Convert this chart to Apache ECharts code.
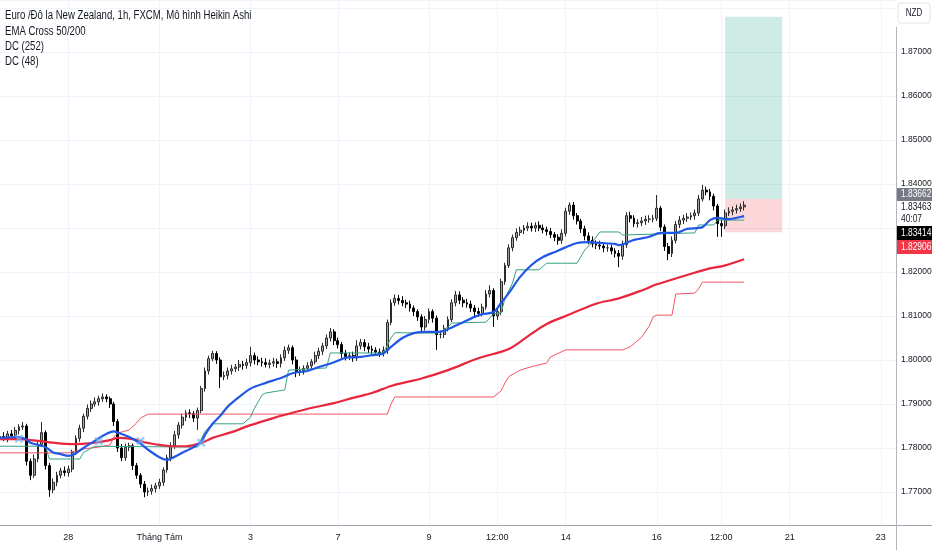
<!DOCTYPE html>
<html><head><meta charset="utf-8">
<script src="https://cdn.jsdelivr.net/npm/echarts@6/dist/echarts.min.js"></script>
<style>html,body{margin:0;padding:0;background:#fff}#c{width:932px;height:550px}</style>
</head><body><div id="c"></div>
<script>
// price values are stored in pips above pipBase
const pipBase = 1.7, pipSize = 0.0001;
const slotCount = 237;
const xLabelSlots = [18,42,66,89,113,131,149,173,190,208,232];
const xLabelTexts = ['28','Tháng Tám','3','7','9','12:00','14','16','12:00','21','23'];
const yMin = 1.7625, yMax = 1.88182;

const haOpen = [820,826,822,832,828,840,848,850,770,738,
775,808,835,760,705,722,738,748,744,752,
790,822,845,872,890,900,905,912,916,912,
900,860,800,778,802,805,760,738,718,700,
702,708,714,722,750,778,805,830,852,870,
880,878,868,885,935,975,1003,1015,1000,962,
965,975,980,984,990,988,994,1010,1000,996,
994,990,993,996,992,1005,1022,1028,1000,972,
976,981,987,996,1010,1020,1032,1050,1064,1044,
1035,1015,1008,1010,1005,1032,1040,1030,1025,1022,
1018,1015,1022,1085,1130,1140,1135,1130,1127,1118,
1110,1098,1075,1092,1110,1095,1058,1058,1072,1092,
1130,1148,1136,1130,1127,1118,1110,1106,1120,1150,
1158,1100,1110,1178,1215,1255,1278,1290,1295,1300,
1304,1300,1306,1300,1296,1292,1285,1279,1272,1288,
1338,1352,1328,1316,1298,1282,1272,1264,1261,1259,
1255,1255,1248,1242,1236,1262,1328,1322,1310,1312,
1316,1320,1320,1322,1345,1302,1258,1242,1272,1308,
1318,1322,1325,1328,1334,1366,1386,1382,1372,1350,
1310,1305,1334,1338,1341,1344,1348];
const haClose = [826,822,832,828,840,848,850,770,738,775,
808,835,760,705,722,738,748,744,752,790,
822,845,872,890,900,905,912,916,912,900,
860,800,778,802,805,760,738,718,700,702,
708,714,722,750,778,805,830,852,870,880,
878,868,885,935,975,1003,1015,1000,962,965,
975,980,984,990,988,994,1010,1000,996,994,
990,993,996,992,1005,1022,1028,1000,972,976,
981,987,996,1010,1020,1032,1050,1064,1044,1035,
1015,1008,1010,1005,1032,1040,1030,1025,1022,1018,
1015,1022,1085,1130,1140,1135,1130,1127,1118,1110,
1098,1075,1092,1110,1095,1058,1058,1072,1092,1130,
1148,1136,1130,1127,1118,1110,1106,1120,1150,1158,
1100,1110,1178,1215,1255,1278,1290,1295,1300,1304,
1300,1306,1300,1296,1292,1285,1279,1272,1288,1338,
1352,1328,1316,1298,1282,1272,1264,1261,1259,1255,
1255,1248,1242,1236,1262,1328,1322,1310,1312,1316,
1320,1320,1322,1345,1302,1258,1242,1272,1308,1318,
1322,1325,1328,1334,1366,1386,1382,1372,1350,1310,
1305,1334,1338,1341,1344,1348,1352];
// wick lengths (pips) above the body top and below the body bottom
const wickUp = [8,10,7,9,8,6,9,5,6,10,
8,24,5,6,9,8,7,10,8,6,
7,8,6,9,8,10,7,8,6,5,
5,6,9,8,7,5,6,5,7,8,
9,7,8,6,7,8,9,7,8,6,
8,6,7,6,8,7,6,5,6,9,
8,9,7,10,8,9,20,7,8,9,
10,8,9,7,8,9,7,5,8,9,
7,8,6,9,8,7,8,9,6,7,
6,8,7,9,13,8,7,9,8,7,
8,9,7,8,9,8,10,7,8,6,
5,6,8,7,5,6,9,8,7,8,
9,8,7,9,8,7,9,8,9,12,
5,8,7,6,8,7,9,8,7,9,
8,7,9,8,7,8,6,7,9,8,
6,7,6,5,7,8,9,8,10,7,
8,7,6,8,9,8,9,7,8,9,
8,9,8,30,5,6,8,9,8,9,
8,9,7,8,9,12,8,7,6,5,
9,8,9,8,9,8,9];
const wickDown = [8,6,9,7,8,9,7,10,11,6,
7,5,9,16,8,9,7,8,9,7,
6,8,9,7,8,6,9,7,8,9,
10,9,8,7,9,10,8,9,12,9,
8,9,7,8,6,8,7,9,8,9,
10,9,27,6,7,8,6,9,26,8,
9,8,7,9,10,8,9,10,8,9,
7,9,8,10,9,7,8,10,11,8,
9,7,8,6,8,9,7,8,10,9,
10,9,8,9,7,8,10,9,8,9,
8,7,8,6,7,9,8,9,8,10,
9,14,8,9,10,35,9,8,7,6,
8,9,10,8,9,10,8,7,6,8,
25,9,8,7,6,8,7,8,9,7,
8,9,7,8,9,8,9,10,8,7,
8,9,8,9,10,9,8,9,8,10,
9,8,9,25,8,7,9,8,9,8,
9,8,7,6,9,10,15,8,7,8,
9,8,7,9,7,6,8,9,10,30,
25,8,7,9,8,7,8];

// [slot, pips]
const emaFast = [[0,823],[5,825],[7,819],[8,812],[10,807],[12,802],[14,790],[16,786],[18,782],[20,788],[22,800],[24,811],[26,822],[28,832],[30,838],[31,835],[32,832],[34,825],[37,810],[39,796],[42,779],[44,773],[45,776],[48,789],[51,802],[53,814],[54,830],[56,855],[58,873],[60,894],[63,916],[66,935],[70,948],[74,959],[77,970],[81,975],[84,984],[88,995],[91,1005],[95,1007],[98,1011],[101,1015],[103,1030],[106,1050],[109,1061],[112,1064],[114,1064],[117,1066],[119,1074],[122,1086],[125,1098],[127,1104],[130,1109],[132,1130],[134,1152],[137,1189],[140,1216],[143,1234],[146,1245],[149,1256],[152,1266],[155,1268],[158,1266],[162,1264],[163,1261],[165,1266],[167,1273],[171,1280],[174,1289],[178,1289],[181,1298],[185,1302],[187,1318],[189,1323],[192,1320],[195,1325],[196,1327]];
const emaSlow = [[0,820],[5,820],[10,816],[15,811],[19,809],[24,811],[29,818],[31,823],[35,820],[38,813],[42,807],[45,804],[49,804],[53,811],[56,823],[61,836],[66,852],[72,868],[77,880],[82,891],[88,902],[93,914],[98,925],[103,941],[111,958],[118,977],[126,1004],[134,1025],[140,1060],[144,1082],[149,1100],[157,1128],[163,1140],[169,1158],[173,1172],[179,1188],[186,1206],[191,1215],[196,1229]];
const dc48 = [[0,804],[12,804],[13,775],[21,775],[22,790],[25,804],[52,802],[54,838],[56,855],[64,855],[66,870],[67,890],[68,905],[69,920],[70,925],[75,932],[76,977],[86,982],[87,1016],[101,1016],[103,1050],[104,1062],[115,1061],[116,1064],[118,1075],[119,1084],[128,1086],[130,1105],[132,1107],[133,1140],[135,1175],[136,1205],[142,1205],[144,1220],[152,1220],[154,1250],[156,1268],[158,1291],[163,1291],[164,1284],[183,1289],[184,1307],[188,1307],[189,1318],[196,1318]];
const dc252 = [[0,789],[18,789],[22,798],[26,802],[29,807],[30,825],[31,834],[34,841],[36,857],[37,868],[39,877],[102,877],[103,900],[104,916],[130,916],[132,930],[133,948],[134,962],[136,972],[137,977],[140,985],[144,993],[145,1007],[149,1023],[164,1023],[166,1030],[169,1052],[171,1077],[172,1098],[173,1102],[177,1102],[178,1150],[183,1152],[184,1162],[185,1177],[196,1177]];
const crossMarks = [[5,821],[26,816],[37,816],[53,812]];

const posStartSlot = 191, posEndSlot = 206;
const posTarget = 1.8780, posEntry = 1.83662, posStop = 1.82906;

const legendLines = ['Euro /Đô la New Zealand, 1h, FXCM, Mô hình Heikin Ashi','EMA Cross 50/200','DC (252)','DC (48)'];
const tagTexts = ['1.83662','1.83463','40:07','1.83414','1.82906'];

const toPrice = p => +(pipBase + p * pipSize).toFixed(5);
const slots = Array.from({length: slotCount}, (_, i) => String(i));
const labelMap = {};
xLabelSlots.forEach((s, k) => labelMap[s] = xLabelTexts[k]);
const showLab = (i) => labelMap[i] !== undefined;

const candles = haOpen.map((o, i) => {
  const c = haClose[i];
  const hi = Math.max(o, c) + wickUp[i];
  const lo = Math.min(o, c) - wickDown[i];
  return [toPrice(o), toPrice(c), toPrice(lo), toPrice(hi)];
});
const conv = arr => arr.map(([s, p]) => [s, toPrice(p)]);

const FONT = "'Liberation Sans', Arial, sans-serif";
const SQ = 0.8; // horizontal squeeze of overlay texts, as in the reference
const txt = (x, y, text, fill, size, extra) => Object.assign({
  type: 'text', x: x, y: y, scaleX: SQ, z: 11,
  style: {text: text, fill: fill, font: size + 'px ' + FONT, verticalAlign: 'middle'}
}, extra || {});

const legendGraphics = legendLines.map((t, k) => txt(5, [16, 32, 47, 62][k], t, '#131722', 12));

const chart = echarts.init(document.getElementById('c'), null, {renderer: 'canvas'});
chart.setOption({
  animation: false,
  backgroundColor: '#ffffff',
  grid: {left: 0, right: 36, top: 0, bottom: 25, containLabel: false, outerBoundsMode: 'none'},
  xAxis: {
    type: 'category', data: slots, boundaryGap: false,
    axisLine: {show: false}, axisTick: {show: false},
    axisLabel: {interval: (i) => showLab(i), formatter: (v, i) => labelMap[i] || '', color: '#131722', fontSize: 9, margin: 8, fontFamily: FONT},
    splitLine: {show: true, interval: (i) => showLab(i), lineStyle: {color: '#f0f3fa', width: 1}}
  },
  yAxis: {
    type: 'value', position: 'right', min: yMin, max: yMax, splitNumber: 12, scale: true,
    axisLine: {show: false}, axisTick: {show: false},
    axisLabel: {formatter: v => (v > 1.875 ? '' : v.toFixed(5)), showMinLabel: false, showMaxLabel: false, color: '#131722', fontSize: 8.5, margin: 5, fontFamily: FONT},
    splitLine: {lineStyle: {color: '#f0f3fa', width: 1}}
  },
  series: [
    {
      type: 'candlestick', data: candles, barWidth: '62%',
      itemStyle: {color: '#a3a3a3', color0: '#000000', borderColor: '#2a2a2a', borderColor0: '#000000', borderWidth: 1},
      markArea: {
        silent: true,
        data: [
          [{xAxis: posStartSlot, yAxis: posEntry, itemStyle: {color: 'rgba(8,153,129,0.2)'}}, {xAxis: posEndSlot, yAxis: posTarget}],
          [{xAxis: posStartSlot, yAxis: posStop, itemStyle: {color: 'rgba(242,54,69,0.2)'}}, {xAxis: posEndSlot, yAxis: posEntry}]
        ]
      }
    },
    {type: 'line', data: conv(dc252), symbol: 'none', lineStyle: {color: '#f25563', width: 1}, z: 3},
    {type: 'line', data: conv(dc48), symbol: 'none', lineStyle: {color: '#35a185', width: 1}, z: 3},
    {type: 'line', data: conv(emaSlow), symbol: 'none', smooth: 0.3, lineStyle: {color: '#e8263c', width: 2.2}, z: 4},
    {type: 'line', data: conv(emaFast), symbol: 'none', smooth: 0.3, lineStyle: {color: '#2157e6', width: 2.2}, z: 5},
    {type: 'scatter', data: conv(crossMarks), symbol: 'path://M2,0L5,3L8,0L10,2L7,5L10,8L8,10L5,7L2,10L0,8L3,5L0,2Z', symbolSize: 9, itemStyle: {color: 'rgba(110,185,245,0.85)'}, z: 6}
  ],
  graphic: legendGraphics.concat([
    {type: 'line', shape: {x1: 0, y1: 525.5, x2: 932, y2: 525.5}, style: {stroke: '#a3a6ae', lineWidth: 1}, z: 10},
    {type: 'line', shape: {x1: 896.5, y1: 27, x2: 896.5, y2: 550}, style: {stroke: '#b2b5be', lineWidth: 1}, z: 10},
    {type: 'rect', shape: {x: 898, y: 3, width: 32, height: 20, r: 3}, style: {fill: '#ffffff', stroke: '#e0e3eb', lineWidth: 1}, z: 10},
    txt(914, 13.5, 'NZD', '#131722', 10, {style: {text: 'NZD', fill: '#131722', font: '10px ' + FONT, align: 'center', verticalAlign: 'middle'}}),
    {type: 'rect', shape: {x: 897, y: 188, width: 35, height: 13}, style: {fill: '#787b86'}, z: 10},
    txt(901, 194.5, tagTexts[0], '#ffffff', 10.5),
    {type: 'rect', shape: {x: 897, y: 201, width: 35, height: 25}, style: {fill: '#ffffff'}, z: 10},
    txt(901, 207, tagTexts[1], '#131722', 10.5),
    txt(901, 219, tagTexts[2], '#131722', 10.5),
    {type: 'rect', shape: {x: 897, y: 226, width: 35, height: 14}, style: {fill: '#000000'}, z: 10},
    txt(901, 233, tagTexts[3], '#ffffff', 10.5),
    {type: 'rect', shape: {x: 897, y: 240, width: 35, height: 14}, style: {fill: '#f23645'}, z: 10},
    txt(901, 247, tagTexts[4], '#ffffff', 10.5)
  ])
});
</script></body></html>
